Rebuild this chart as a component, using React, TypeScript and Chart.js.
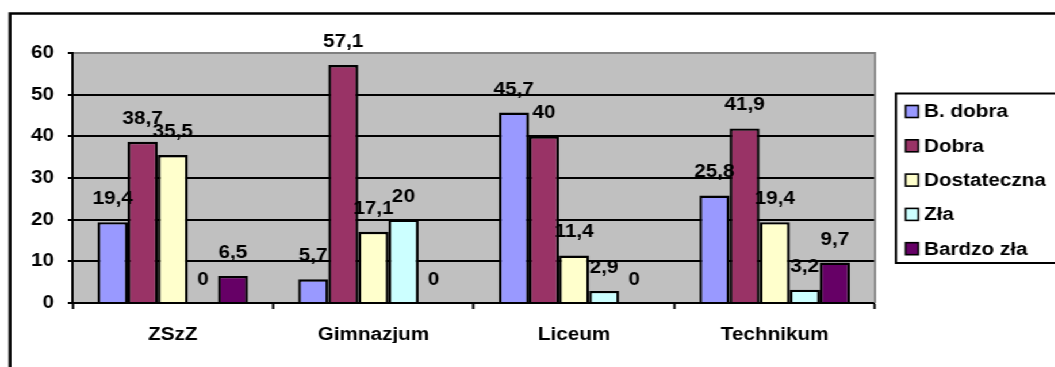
import React, { useEffect, useRef } from "react";
import { Chart, registerables } from "chart.js";

Chart.register(...registerables);

// Oceny w podziale na typ szkoły (%)
const categories = ["ZSzZ", "Gimnazjum", "Liceum", "Technikum"];
const seriesNames = ["B. dobra", "Dobra", "Dostateczna", "Zła", "Bardzo zła"];
const bDobra = [19.4, 5.7, 45.7, 25.8];
const dobra = [38.7, 57.1, 40, 41.9];
const dostateczna = [35.5, 17.1, 11.4, 19.4];
const zla = [0, 20, 2.9, 3.2];
const bardzoZla = [6.5, 0, 0, 9.7];
const seriesColors = ["#9999FF", "#993366", "#FFFFCC", "#CCFFFF", "#660066"];
const yMin = 0;
const yMax = 60;
const yStep = 10;

const seriesValues = [bDobra, dobra, dostateczna, zla, bardzoZla];

// The chart is laid out on a narrower canvas and widened with CSS.
const STRETCH = 1.15;
const CANVAS_W = Math.round(1055 / STRETCH);
const CANVAS_H = 367;
const FONT_FAMILY = "'Liberation Sans', Arial, sans-serif";
const FONT_SIZE = 18;
const fontCss = `bold ${FONT_SIZE}px ${FONT_FAMILY}`;

const PLOT_LEFT = 63;
const PLOT_RIGHT = 760.9;

const formatValue = (v: number) => String(v).replace(".", ",");

const framePlugin = {
  id: "frame",
  beforeDraw(chart: any) {
    const { ctx, chartArea } = chart;
    ctx.save();
    ctx.fillStyle = "#FFFFFF";
    ctx.fillRect(0, 0, chart.width, chart.height);
    // outer chart border
    ctx.strokeStyle = "#000000";
    ctx.lineWidth = 2.5;
    ctx.strokeRect(8.7, 13.5, chart.width + 20, chart.height + 20);
    // plot area
    ctx.fillStyle = "#C0C0C0";
    ctx.fillRect(
      chartArea.left,
      chartArea.top,
      chartArea.right - chartArea.left,
      chartArea.bottom - chartArea.top
    );
    ctx.restore();
  },
  beforeDatasetsDraw(chart: any) {
    const { ctx, chartArea } = chart;
    ctx.save();
    ctx.strokeStyle = "#808080";
    ctx.lineWidth = 1.8;
    ctx.beginPath();
    ctx.moveTo(chartArea.right, chartArea.top - 1);
    ctx.lineTo(chartArea.right, chartArea.bottom);
    ctx.stroke();
    ctx.restore();
  },
};

const valueLabelPlugin = {
  id: "valueLabels",
  afterDatasetsDraw(chart: any) {
    const { ctx } = chart;
    ctx.save();
    ctx.font = fontCss;
    ctx.fillStyle = "#000000";
    ctx.textAlign = "center";
    ctx.textBaseline = "middle";
    chart.data.datasets.forEach((ds: any, di: number) => {
      const meta = chart.getDatasetMeta(di);
      meta.data.forEach((el: any, i: number) => {
        const v = ds.data[i] as number;
        ctx.fillText(formatValue(v), el.x, el.y - 23);
      });
    });
    ctx.restore();
  },
};

const legendPlugin = {
  id: "boxLegend",
  afterDraw(chart: any) {
    const { ctx } = chart;
    const left = 779.1;
    const top = 93.5;
    const bottom = 263;
    ctx.save();
    ctx.fillStyle = "#FFFFFF";
    ctx.fillRect(left, top, chart.width - left + 10, bottom - top);
    ctx.strokeStyle = "#000000";
    ctx.lineWidth = 2;
    ctx.strokeRect(left, top, chart.width - left + 10, bottom - top);
    ctx.font = fontCss;
    ctx.textAlign = "left";
    ctx.textBaseline = "middle";
    chart.data.datasets.forEach((ds: any, i: number) => {
      const cy = 111.5 + i * 34.3;
      ctx.fillStyle = ds.backgroundColor;
      ctx.fillRect(787.5, cy - 6, 11, 12);
      ctx.strokeStyle = "#000000";
      ctx.lineWidth = 1.6;
      ctx.strokeRect(787.5, cy - 6, 11, 12);
      ctx.fillStyle = "#000000";
      ctx.fillText(ds.label, 803.5, cy + 1);
    });
    ctx.restore();
  },
};

export default function App() {
  const canvasRef = useRef<HTMLCanvasElement | null>(null);

  useEffect(() => {
    if (!canvasRef.current) return;
    const chart = new Chart(canvasRef.current, {
      type: "bar",
      data: {
        labels: categories,
        datasets: seriesNames.map((name, i) => ({
          label: name,
          data: seriesValues[i],
          backgroundColor: seriesColors[i],
          borderColor: "#000000",
          borderWidth: 2.4,
          categoryPercentage: 0.75,
          barPercentage: 1,
        })),
      },
      options: {
        responsive: false,
        animation: false,
        devicePixelRatio: 1,
        layout: {
          padding: { left: 0, top: 53, right: CANVAS_W - PLOT_RIGHT, bottom: 24 },
        },
        plugins: {
          legend: { display: false },
          tooltip: { enabled: false },
          title: { display: false },
        },
        scales: {
          x: {
            z: 1,
            afterFit: (scale: any) => {
              scale.height = 40;
            },
            grid: {
              offset: true,
              drawOnChartArea: false,
              drawTicks: true,
              tickLength: 6,
              tickColor: "#000000",
              tickWidth: 2,
            },
            border: { display: true, color: "#000000", width: 2 },
            ticks: {
              color: "#000000",
              font: { family: FONT_FAMILY, size: FONT_SIZE, weight: "bold" },
              padding: 15,
              maxRotation: 0,
            },
          },
          y: {
            min: yMin,
            max: yMax,
            afterFit: (scale: any) => {
              scale.width = PLOT_LEFT;
            },
            grid: {
              color: (ctx: any) =>
                ctx.tick && ctx.tick.value === yMax ? "#808080" : "#000000",
              lineWidth: 2,
              drawTicks: true,
              tickLength: 4,
              tickColor: "#000000",
              tickWidth: 2,
            },
            border: { display: true, color: "#000000", width: 2 },
            ticks: {
              stepSize: yStep,
              color: "#000000",
              font: { family: FONT_FAMILY, size: FONT_SIZE, weight: "bold" },
              padding: 12,
            },
          },
        },
      },
      plugins: [framePlugin, valueLabelPlugin, legendPlugin],
    });
    return () => chart.destroy();
  }, []);

  return (
    <div
      style={{
        position: "fixed",
        left: 0,
        top: 0,
        width: CANVAS_W,
        height: CANVAS_H,
        transform: `scaleX(${STRETCH})`,
        transformOrigin: "0 0",
        background: "#FFFFFF",
      }}
    >
      <canvas ref={canvasRef} width={CANVAS_W} height={CANVAS_H} />
    </div>
  );
}
